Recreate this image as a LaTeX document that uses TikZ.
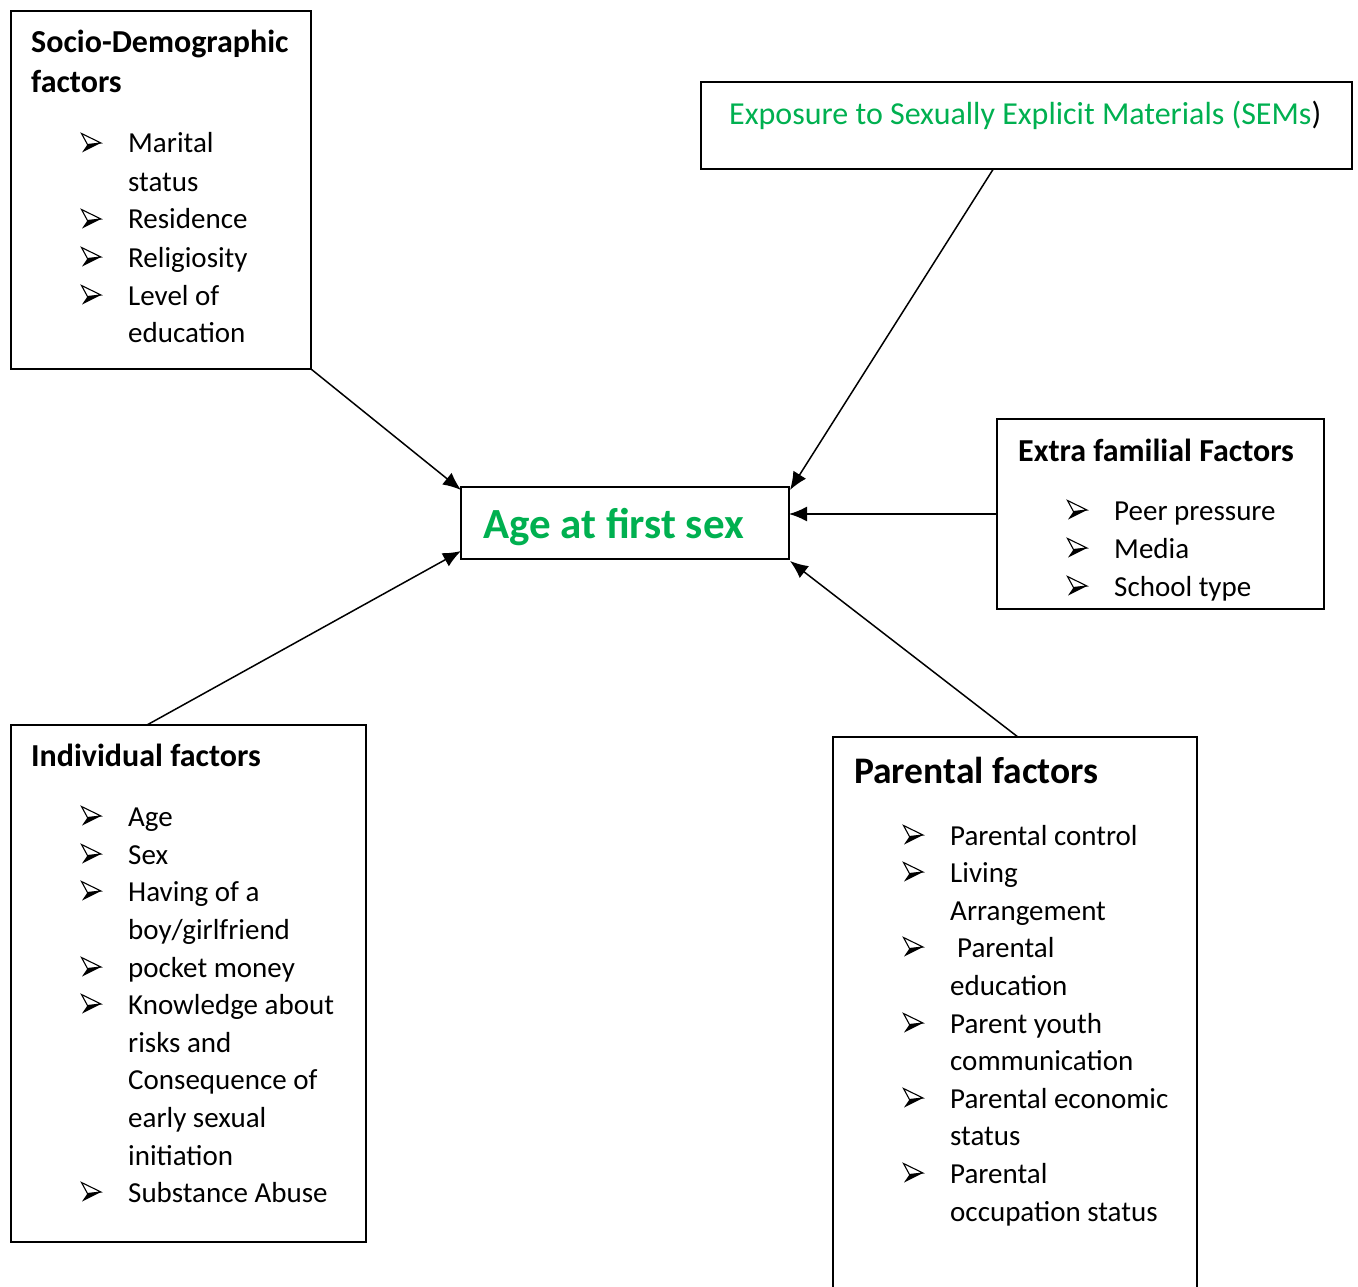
\documentclass[tikz,border=0pt]{standalone}
\usepackage{fontspec}
\setmainfont{Carlito}
\usetikzlibrary{arrows.meta,calc}
\definecolor{sgreen}{HTML}{00B050}
\begin{document}
\begin{tikzpicture}[x=1pt,y=-1pt,
  box/.style={draw, line width=1.6pt, anchor=north west, inner sep=0, outer sep=0},
  txt/.style={anchor=base west, inner sep=0, font=\fontsize{29}{35}\selectfont},
  ttl/.style={anchor=base west, inner sep=0, font=\bfseries\fontsize{32}{38}\selectfont},
  conn/.style={line width=1.5pt, -{Latex[length=18pt,width=15pt]}},
  bularr/.pic={
    \fill (0,0) -- (-19,9.5) -- (-13.5,1.5) -- cycle;
    \draw[line width=1.1pt, line join=miter] (0,0) -- (-19.5,-9.5) -- (-13.5,1.5) -- cycle;
  }]
\useasboundingbox (0,0) rectangle (1358,1287);
% boxes
\node[box, minimum width=300, minimum height=358] (socio) at (11,11) {};
\node[box, minimum width=651, minimum height=87] (sem) at (701,82) {};
\node[box, minimum width=328, minimum height=72] (age) at (461,487) {};
\node[box, minimum width=327, minimum height=190] (extra) at (997,419) {};
\node[box, minimum width=355, minimum height=517] (indiv) at (11,725) {};
\node[box, minimum width=364, minimum height=600] (par) at (833,737) {};
% Socio-demographic
\node[ttl] (s0) at (31,53) {Socio-Demographic};
\node[ttl] (s1) at (31,93) {factors};
\pic at (101,143) {bularr};
\node[txt] (s2) at (128,153) {Marital};
\node[txt] (s3) at (128,191) {status};
\pic at (101,219) {bularr};
\node[txt] (s4) at (128,229) {Residence};
\pic at (101,257) {bularr};
\node[txt] (s5) at (128,267) {Religiosity};
\pic at (101,295) {bularr};
\node[txt] (s6) at (128,305) {Level of};
\node[txt] (s7) at (128,342) {education};
% SEM
\node[anchor=base west, inner sep=0, font=\fontsize{32}{38}\selectfont, text=sgreen] (semt) at (729,125) {Exposure to Sexually Explicit Materials (SEMs\textcolor{black}{)}};
% Age
\node[anchor=base west, inner sep=0, font=\bfseries\fontsize{43}{48}\selectfont, text=sgreen] (aget) at (483,538) {Age at first sex};
% Extra familial
\node[ttl] (e0) at (1018,461) {Extra familial Factors};
\pic at (1087,510) {bularr};
\node[txt] (e1) at (1114,520) {Peer pressure};
\pic at (1087,548) {bularr};
\node[txt] (e2) at (1114,558) {Media};
\pic at (1087,586) {bularr};
\node[txt] (e3) at (1114,596) {School type};
% Individual
\node[ttl] (i0) at (31,766) {Individual factors};
\pic at (101,816) {bularr};
\node[txt] (i1) at (128,826) {Age};
\pic at (101,854) {bularr};
\node[txt] (i2) at (128,864) {Sex};
\pic at (101,891) {bularr};
\node[txt] (i3) at (128,901) {Having of a};
\node[txt] (i4) at (128,939) {boy/girlfriend};
\pic at (101,967) {bularr};
\node[txt] (i5) at (128,977) {pocket money};
\pic at (101,1004) {bularr};
\node[txt] (i6) at (128,1014) {Knowledge about};
\node[txt] (i7) at (128,1052) {risks and};
\node[txt] (i8) at (128,1089) {Consequence of};
\node[txt] (i9) at (128,1127) {early sexual};
\node[txt] (i10) at (128,1165) {initiation};
\pic at (101,1192) {bularr};
\node[txt] (i11) at (128,1202) {Substance Abuse};
% Parental
\node[anchor=base west, inner sep=0, font=\bfseries\fontsize{37.5}{42}\selectfont] (p0) at (854,783) {Parental factors};
\pic at (923,835) {bularr};
\node[txt] (p1) at (950,845) {Parental control};
\pic at (923,872) {bularr};
\node[txt] (p2) at (950,882) {Living};
\node[txt] (p3) at (950,920) {Arrangement};
\pic at (923,947) {bularr};
\node[txt] (p4) at (957,957) {Parental};
\node[txt] (p5) at (950,995) {education};
\pic at (923,1023) {bularr};
\node[txt] (p6) at (950,1033) {Parent youth};
\node[txt] (p7) at (950,1070) {communication};
\pic at (923,1098) {bularr};
\node[txt] (p8) at (950,1108) {Parental economic};
\node[txt] (p9) at (950,1145) {status};
\pic at (923,1173) {bularr};
\node[txt] (p10) at (950,1183) {Parental};
\node[txt] (p11) at (950,1221) {occupation status};
% connectors
\draw[conn] (socio.south east) -- ($(age.north west)+(0,3)$);
\draw[conn] ($(sem.south west)!0.449!(sem.south east)$) -- ($(age.north east)+(1,3)$);
\draw[conn] (extra.west) -- (extra.west -| age.east);
\draw[conn] ($(par.north west)!0.508!(par.north east)$) -- ($(age.south east)+(1,2)$);
\draw[conn] ($(indiv.north west)!0.383!(indiv.north east)$) -- ($(age.south west)+(0,-8)$);
\end{tikzpicture}
\end{document}
